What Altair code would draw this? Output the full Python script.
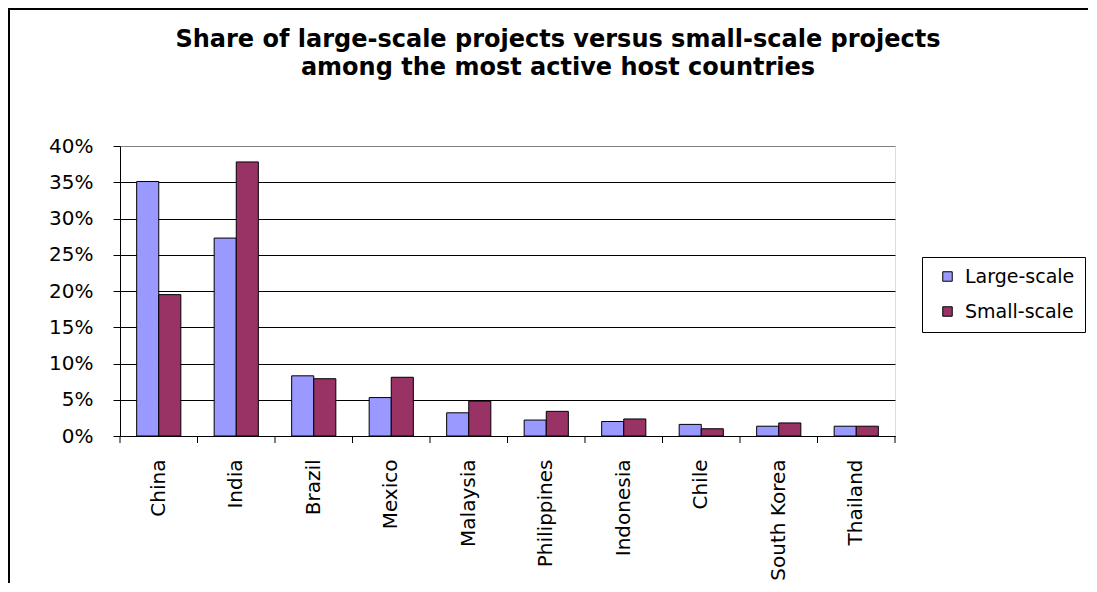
import altair as alt
import pandas as pd

countries = ["China", "India", "Brazil", "Mexico", "Malaysia", "Philippines",
             "Indonesia", "Chile", "South Korea", "Thailand"]
large_scale = [0.351, 0.273, 0.083, 0.053, 0.032, 0.022, 0.020, 0.016, 0.0135, 0.0135]
small_scale = [0.195, 0.378, 0.079, 0.081, 0.048, 0.034, 0.0235, 0.010, 0.018, 0.0135]
series_names = ["Large-scale", "Small-scale"]
series_colors = ["#9999FF", "#993366"]
y_ticks = [0, 0.05, 0.10, 0.15, 0.20, 0.25, 0.30, 0.35, 0.40]
title_lines = ["Share of large-scale projects versus small-scale projects",
               "among the most active host countries"]

rows = []
for c, l, s in zip(countries, large_scale, small_scale):
    rows.append({"Country": c, "Series": series_names[0], "Share": l})
    rows.append({"Country": c, "Series": series_names[1], "Share": s})
df = pd.DataFrame(rows)
title_df = pd.DataFrame({"line": title_lines, "row": [0, 1]})
# category boundaries (0 .. number of categories) for the Excel-style ticks between groups
bounds_df = pd.DataFrame({"b": list(range(len(countries) + 1))})

W, H = 775, 290
FONT = "DejaVu Sans"

xscale = alt.Scale(domain=countries, paddingInner=0.43, paddingOuter=0.215)

bars = alt.Chart(df).mark_bar(stroke="black", strokeWidth=1).encode(
    x=alt.X("Country:N", scale=xscale, sort=countries,
            axis=alt.Axis(title=None, labelAngle=270, labelFont=FONT, labelFontSize=20,
                          labelColor="black", ticks=False, tickSize=0, labelPadding=23,
                          domainColor="black", domainWidth=1, labelAlign="right",
                          labelBaseline="middle", zindex=1)),
    xOffset=alt.XOffset("Series:N", sort=series_names,
                        scale=alt.Scale(paddingInner=0, paddingOuter=0)),
    y=alt.Y("Share:Q", scale=alt.Scale(domain=[0, 0.4], nice=False),
            axis=alt.Axis(title=None, values=y_ticks, format=".0%", labelFont=FONT,
                          labelFontSize=20, labelColor="black", tickColor="black",
                          tickSize=7, labelPadding=20, domainColor="black",
                          gridColor={"condition": {"test": "datum.value >= 0.4", "value": "#808080"},
                                     "value": "black"},
                          gridWidth=1, grid=True)),
    color=alt.Color("Series:N", sort=series_names,
                    scale=alt.Scale(domain=series_names, range=series_colors),
                    legend=alt.Legend(title=None, orient="none", legendX=802, legendY=111,
                                      labelFont=FONT, labelFontSize=19, labelColor="black",
                                      symbolType="square", symbolSize=90,
                                      symbolStrokeColor="black", symbolStrokeWidth=1,
                                      symbolOffset=6, labelOffset=8, rowPadding=15,
                                      padding=10, strokeColor="black", fillColor="white")),
)

tick_rules = alt.Chart(bounds_df).mark_rule(color="black", strokeWidth=1).encode(
    x=alt.X("b:Q", scale=alt.Scale(domain=[0, len(countries)], range=[0, W], nice=False, zero=False),
            axis=None),
    y=alt.value(H), y2=alt.value(H + 7),
)

border = alt.Chart(title_df).mark_rect(fill=None, stroke="black", strokeWidth=2).encode(
    x=alt.value(-111), x2=alt.value(W + 400), y=alt.value(-137), y2=alt.value(H + 300),
)
title = alt.Chart(title_df).mark_text(font=FONT, fontSize=24, fontWeight="bold",
                                      color="black", align="center", baseline="alphabetic").encode(
    text="line:N",
    x=alt.value(438),
    y=alt.Y("row:Q", scale=alt.Scale(domain=[0, 1], range=[-99, -71]), axis=None),
)

chart = alt.layer(border, bars, tick_rules, title).resolve_scale(
    x="independent", y="independent"
).properties(
    width=W, height=H,
    padding={"left": 112, "top": 138, "right": 193, "bottom": 147},
    autosize=alt.AutoSizeParams(type="none"),
).configure_view(
    fill="#C0C0C0", stroke="#808080", strokeWidth=1
).configure(background="white")

chart.save("out.html", embed_options={"renderer": "svg", "actions": False})
